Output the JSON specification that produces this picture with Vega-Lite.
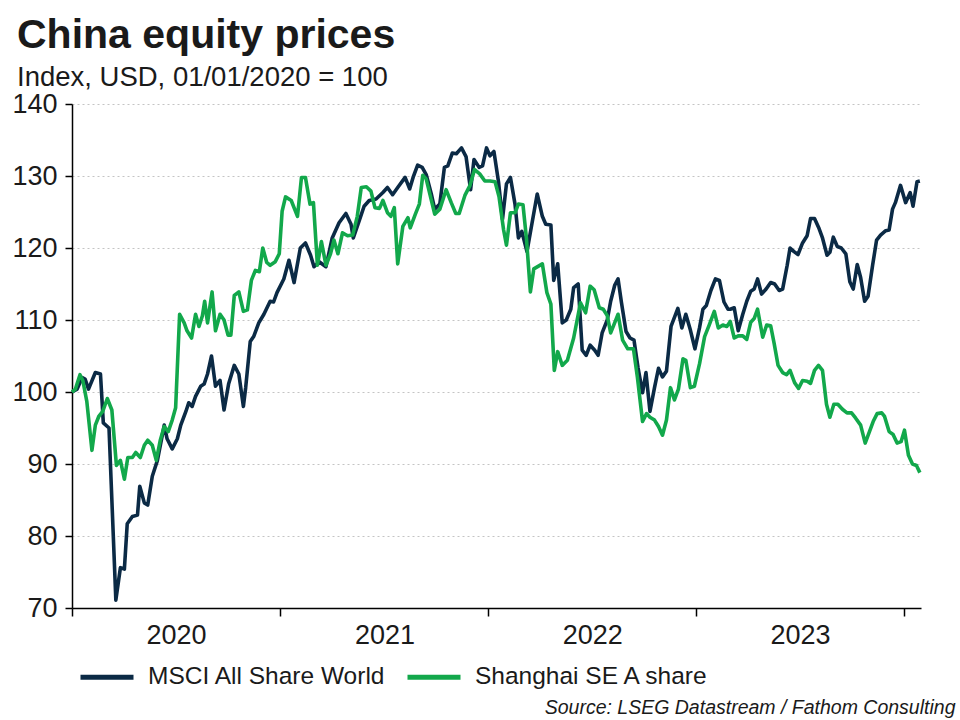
{
 "$schema": "https://vega.github.io/schema/vega-lite/v6.json",
 "width": 849,
 "height": 504,
 "autosize": {"type": "none"},
 "padding": {"left": 72, "top": 104, "right": 39, "bottom": 112},
 "background": "white",
 "title": {"text": "China equity prices", "subtitle": "Index, USD, 01/01/2020 = 100", "anchor": "start", "frame": "group", "dx": -55, "offset": -2, "fontSize": 41, "fontWeight": "bold", "font": "Liberation Sans", "color": "#1a1a1a", "subtitleFontSize": 27.5, "subtitleFont": "Liberation Sans", "subtitleColor": "#1a1a1a", "subtitlePadding": 7},
 "datasets": {
  "msci": [
   {"d":"2020-01-01","v":100},{"d":"2020-01-10","v":100.4},{"d":"2020-01-19","v":102.0},{"d":"2020-01-24","v":101.8},{"d":"2020-01-30","v":100.4},{"d":"2020-02-11","v":102.7},{"d":"2020-02-20","v":102.5},{"d":"2020-02-25","v":95.7},{"d":"2020-03-06","v":95.0},{"d":"2020-03-18","v":71.1},{"d":"2020-03-26","v":75.6},{"d":"2020-04-02","v":75.4},{"d":"2020-04-07","v":81.7},{"d":"2020-04-16","v":82.7},{"d":"2020-04-25","v":82.9},{"d":"2020-04-29","v":86.9},{"d":"2020-05-07","v":84.6},{"d":"2020-05-13","v":84.3},{"d":"2020-05-21","v":88.3},{"d":"2020-05-30","v":90.5},{"d":"2020-06-11","v":95.4},{"d":"2020-06-16","v":93.5},{"d":"2020-06-25","v":92.1},{"d":"2020-07-04","v":93.5},{"d":"2020-07-10","v":95.4},{"d":"2020-07-19","v":97.3},{"d":"2020-07-24","v":98.5},{"d":"2020-07-30","v":98.0},{"d":"2020-08-05","v":99.4},{"d":"2020-08-14","v":100.8},{"d":"2020-08-20","v":101.1},{"d":"2020-08-26","v":102.5},{"d":"2020-09-02","v":105.0},{"d":"2020-09-09","v":100.8},{"d":"2020-09-17","v":101.6},{"d":"2020-09-24","v":97.5},{"d":"2020-10-02","v":101.1},{"d":"2020-10-12","v":103.7},{"d":"2020-10-20","v":102.5},{"d":"2020-10-28","v":98.0},{"d":"2020-11-01","v":100.6},{"d":"2020-11-09","v":107.0},{"d":"2020-11-15","v":107.7},{"d":"2020-11-24","v":109.6},{"d":"2020-12-03","v":110.8},{"d":"2020-12-14","v":112.6},{"d":"2020-12-20","v":112.5},{"d":"2020-12-26","v":113.8},
   {"d":"2021-01-07","v":115.7},{"d":"2021-01-16","v":118.3},{"d":"2021-01-25","v":115.2},{"d":"2021-02-05","v":120.0},{"d":"2021-02-14","v":120.7},{"d":"2021-02-23","v":119.0},{"d":"2021-03-01","v":117.4},{"d":"2021-03-10","v":118.1},{"d":"2021-03-22","v":117.4},{"d":"2021-04-02","v":121.4},{"d":"2021-04-14","v":123.5},{"d":"2021-04-26","v":124.8},{"d":"2021-05-05","v":123.3},{"d":"2021-05-09","v":121.4},{"d":"2021-05-19","v":123.7},{"d":"2021-05-28","v":125.8},{"d":"2021-06-06","v":126.6},{"d":"2021-06-18","v":126.8},{"d":"2021-06-30","v":127.7},{"d":"2021-07-08","v":128.4},{"d":"2021-07-17","v":127.4},{"d":"2021-07-26","v":128.4},{"d":"2021-08-08","v":129.8},{"d":"2021-08-16","v":128.2},{"d":"2021-08-22","v":129.8},{"d":"2021-08-30","v":131.5},{"d":"2021-09-07","v":131.2},{"d":"2021-09-14","v":130.2},{"d":"2021-09-23","v":127.5},{"d":"2021-09-29","v":125.4},{"d":"2021-10-08","v":126.1},{"d":"2021-10-16","v":131.2},{"d":"2021-10-22","v":131.4},{"d":"2021-10-30","v":133.2},{"d":"2021-11-06","v":133.1},{"d":"2021-11-15","v":133.9},{"d":"2021-11-23","v":132.7},{"d":"2021-12-01","v":128.1},{"d":"2021-12-07","v":132.3},{"d":"2021-12-16","v":131.2},{"d":"2021-12-22","v":131.4},{"d":"2021-12-29","v":133.9},
   {"d":"2022-01-04","v":132.8},{"d":"2022-01-11","v":133.4},{"d":"2022-01-19","v":129.2},{"d":"2022-01-26","v":124.0},{"d":"2022-02-02","v":128.9},{"d":"2022-02-09","v":129.8},{"d":"2022-02-17","v":126.1},{"d":"2022-02-23","v":121.4},{"d":"2022-03-01","v":122.3},{"d":"2022-03-10","v":119.5},{"d":"2022-03-19","v":123.5},{"d":"2022-03-28","v":127.5},{"d":"2022-04-06","v":124.4},{"d":"2022-04-12","v":123.3},{"d":"2022-04-21","v":123.2},{"d":"2022-04-26","v":115.5},{"d":"2022-05-03","v":117.8},{"d":"2022-05-11","v":109.6},{"d":"2022-05-18","v":110.0},{"d":"2022-05-26","v":111.5},{"d":"2022-05-31","v":114.5},{"d":"2022-06-08","v":115.0},{"d":"2022-06-15","v":105.8},{"d":"2022-06-22","v":105.1},{"d":"2022-06-29","v":106.5},{"d":"2022-07-07","v":105.8},{"d":"2022-07-13","v":105.1},{"d":"2022-07-20","v":108.2},{"d":"2022-07-29","v":110.0},{"d":"2022-08-04","v":112.6},{"d":"2022-08-11","v":114.8},{"d":"2022-08-17","v":115.7},{"d":"2022-08-23","v":112.4},{"d":"2022-08-31","v":108.4},{"d":"2022-09-07","v":107.5},{"d":"2022-09-14","v":107.2},{"d":"2022-09-21","v":103.4},{"d":"2022-09-29","v":99.9},{"d":"2022-10-05","v":102.7},{"d":"2022-10-12","v":97.3},{"d":"2022-10-20","v":100.6},{"d":"2022-10-27","v":103.3},{"d":"2022-11-03","v":102.1},{"d":"2022-11-10","v":102.9},{"d":"2022-11-18","v":109.1},{"d":"2022-11-30","v":111.6},{"d":"2022-12-07","v":108.9},{"d":"2022-12-14","v":110.8},{"d":"2022-12-22","v":108.6},{"d":"2022-12-30","v":106.0},
   {"d":"2023-01-07","v":108.9},{"d":"2023-01-13","v":111.5},{"d":"2023-01-19","v":112.0},{"d":"2023-01-27","v":114.1},{"d":"2023-02-04","v":115.7},{"d":"2023-02-11","v":115.5},{"d":"2023-02-19","v":112.5},{"d":"2023-02-26","v":111.5},{"d":"2023-03-02","v":111.5},{"d":"2023-03-09","v":111.7},{"d":"2023-03-16","v":108.5},{"d":"2023-03-24","v":110.8},{"d":"2023-03-31","v":112.6},{"d":"2023-04-07","v":114.0},{"d":"2023-04-13","v":114.3},{"d":"2023-04-19","v":115.7},{"d":"2023-04-26","v":113.6},{"d":"2023-05-04","v":114.3},{"d":"2023-05-12","v":115.2},{"d":"2023-05-19","v":115.0},{"d":"2023-05-27","v":114.1},{"d":"2023-06-02","v":114.3},{"d":"2023-06-10","v":117.6},{"d":"2023-06-15","v":120.0},{"d":"2023-06-22","v":119.5},{"d":"2023-06-29","v":119.1},{"d":"2023-07-07","v":120.7},{"d":"2023-07-15","v":121.7},{"d":"2023-07-21","v":124.1},{"d":"2023-07-28","v":124.1},{"d":"2023-08-05","v":122.7},{"d":"2023-08-11","v":121.4},{"d":"2023-08-19","v":119.0},{"d":"2023-08-24","v":119.4},{"d":"2023-08-30","v":121.5},{"d":"2023-09-06","v":120.2},{"d":"2023-09-13","v":120.0},{"d":"2023-09-21","v":119.2},{"d":"2023-09-28","v":115.3},{"d":"2023-10-04","v":114.3},{"d":"2023-10-11","v":117.7},{"d":"2023-10-17","v":115.9},{"d":"2023-10-24","v":112.6},{"d":"2023-10-30","v":113.3},{"d":"2023-11-07","v":117.6},{"d":"2023-11-14","v":121.1},{"d":"2023-11-21","v":121.8},{"d":"2023-11-30","v":122.4},{"d":"2023-12-06","v":122.5},{"d":"2023-12-12","v":125.4},{"d":"2023-12-17","v":126.3},{"d":"2023-12-26","v":128.7},
   {"d":"2024-01-04","v":126.3},{"d":"2024-01-12","v":127.7},{"d":"2024-01-17","v":125.8},{"d":"2024-01-24","v":129.2},{"d":"2024-01-29","v":129.3}
  ],
  "sh": [
   {"d":"2020-01-01","v":100},{"d":"2020-01-07","v":100.4},{"d":"2020-01-15","v":102.4},{"d":"2020-01-20","v":101.6},{"d":"2020-01-27","v":98.7},{"d":"2020-02-05","v":91.9},{"d":"2020-02-11","v":95.4},{"d":"2020-02-17","v":96.6},{"d":"2020-02-24","v":97.3},{"d":"2020-03-03","v":99.1},{"d":"2020-03-11","v":97.5},{"d":"2020-03-19","v":89.8},{"d":"2020-03-26","v":90.5},{"d":"2020-04-02","v":87.9},{"d":"2020-04-08","v":90.9},{"d":"2020-04-16","v":90.9},{"d":"2020-04-22","v":91.6},{"d":"2020-04-30","v":90.9},{"d":"2020-05-07","v":92.6},{"d":"2020-05-13","v":93.3},{"d":"2020-05-21","v":92.6},{"d":"2020-05-28","v":90.5},{"d":"2020-06-04","v":93.3},{"d":"2020-06-11","v":95.2},{"d":"2020-06-18","v":94.5},{"d":"2020-06-25","v":96.1},{"d":"2020-07-01","v":97.8},{"d":"2020-07-08","v":110.8},{"d":"2020-07-16","v":109.6},{"d":"2020-07-21","v":108.5},{"d":"2020-07-29","v":107.5},{"d":"2020-08-05","v":110.8},{"d":"2020-08-11","v":109.1},{"d":"2020-08-17","v":110.6},{"d":"2020-08-21","v":112.6},{"d":"2020-08-26","v":109.6},{"d":"2020-09-03","v":113.9},{"d":"2020-09-09","v":108.5},{"d":"2020-09-17","v":110.8},{"d":"2020-09-24","v":110.0},{"d":"2020-10-01","v":107.9},{"d":"2020-10-06","v":107.9},{"d":"2020-10-12","v":113.4},{"d":"2020-10-20","v":113.9},{"d":"2020-10-28","v":111.2},{"d":"2020-11-04","v":111.4},{"d":"2020-11-11","v":115.5},{"d":"2020-11-18","v":116.9},{"d":"2020-11-25","v":116.7},{"d":"2020-12-01","v":120.0},{"d":"2020-12-08","v":118.0},{"d":"2020-12-14","v":117.6},{"d":"2020-12-23","v":118.1},{"d":"2020-12-30","v":119.2},
   {"d":"2021-01-04","v":125.1},{"d":"2021-01-10","v":127.1},{"d":"2021-01-20","v":126.6},{"d":"2021-01-31","v":124.4},{"d":"2021-02-07","v":129.8},{"d":"2021-02-14","v":129.8},{"d":"2021-02-22","v":126.1},{"d":"2021-02-28","v":126.3},{"d":"2021-03-07","v":117.6},{"d":"2021-03-14","v":120.9},{"d":"2021-03-22","v":117.6},{"d":"2021-03-30","v":119.2},{"d":"2021-04-05","v":121.1},{"d":"2021-04-12","v":119.2},{"d":"2021-04-20","v":122.1},{"d":"2021-04-29","v":121.7},{"d":"2021-05-08","v":121.8},{"d":"2021-05-16","v":124.4},{"d":"2021-05-23","v":128.4},{"d":"2021-06-01","v":128.5},{"d":"2021-06-09","v":127.9},{"d":"2021-06-16","v":125.6},{"d":"2021-06-24","v":125.5},{"d":"2021-06-30","v":126.6},{"d":"2021-07-08","v":124.9},{"d":"2021-07-14","v":124.4},{"d":"2021-07-20","v":125.6},{"d":"2021-07-26","v":117.8},{"d":"2021-08-04","v":123.0},{"d":"2021-08-13","v":124.2},{"d":"2021-08-17","v":122.8},{"d":"2021-08-26","v":124.7},{"d":"2021-09-02","v":126.1},{"d":"2021-09-08","v":130.1},{"d":"2021-09-14","v":129.6},{"d":"2021-09-21","v":127.3},{"d":"2021-09-29","v":124.7},{"d":"2021-10-08","v":125.4},{"d":"2021-10-19","v":128.1},{"d":"2021-10-28","v":126.3},{"d":"2021-11-05","v":124.8},{"d":"2021-11-11","v":124.8},{"d":"2021-11-21","v":127.3},{"d":"2021-11-30","v":128.7},{"d":"2021-12-08","v":130.9},{"d":"2021-12-17","v":130.3},{"d":"2021-12-26","v":129.3},
   {"d":"2022-01-04","v":129.3},{"d":"2022-01-13","v":129.2},{"d":"2022-01-20","v":127.1},{"d":"2022-01-28","v":122.5},{"d":"2022-02-02","v":120.4},{"d":"2022-02-09","v":124.9},{"d":"2022-02-17","v":124.9},{"d":"2022-02-23","v":126.1},{"d":"2022-03-03","v":126.0},{"d":"2022-03-09","v":121.4},{"d":"2022-03-16","v":113.9},{"d":"2022-03-22","v":117.1},{"d":"2022-04-06","v":117.8},{"d":"2022-04-14","v":113.8},{"d":"2022-04-21","v":112.2},{"d":"2022-04-27","v":103.0},{"d":"2022-05-03","v":105.6},{"d":"2022-05-11","v":103.7},{"d":"2022-05-20","v":104.4},{"d":"2022-05-31","v":107.5},{"d":"2022-06-12","v":112.4},{"d":"2022-06-21","v":111.0},{"d":"2022-06-29","v":114.7},{"d":"2022-07-06","v":114.2},{"d":"2022-07-15","v":111.7},{"d":"2022-07-22","v":111.5},{"d":"2022-07-29","v":110.6},{"d":"2022-08-04","v":108.2},{"d":"2022-08-11","v":109.6},{"d":"2022-08-17","v":110.8},{"d":"2022-08-25","v":107.2},{"d":"2022-09-03","v":106.0},{"d":"2022-09-13","v":106.0},{"d":"2022-09-20","v":102.0},{"d":"2022-09-29","v":95.9},{"d":"2022-10-06","v":97.0},{"d":"2022-10-12","v":96.5},{"d":"2022-10-20","v":96.1},{"d":"2022-10-27","v":95.2},{"d":"2022-11-03","v":94.0},{"d":"2022-11-10","v":96.1},{"d":"2022-11-17","v":100.6},{"d":"2022-11-24","v":98.9},{"d":"2022-12-01","v":100.4},{"d":"2022-12-09","v":104.6},{"d":"2022-12-14","v":104.4},{"d":"2022-12-22","v":100.6},{"d":"2022-12-29","v":100.8},
   {"d":"2023-01-07","v":103.9},{"d":"2023-01-16","v":107.7},{"d":"2023-01-24","v":109.3},{"d":"2023-02-02","v":111.2},{"d":"2023-02-09","v":108.9},{"d":"2023-02-17","v":109.3},{"d":"2023-02-24","v":109.1},{"d":"2023-03-02","v":109.8},{"d":"2023-03-09","v":107.5},{"d":"2023-03-16","v":107.8},{"d":"2023-03-24","v":107.8},{"d":"2023-03-31","v":107.3},{"d":"2023-04-07","v":109.7},{"d":"2023-04-13","v":110.2},{"d":"2023-04-19","v":111.5},{"d":"2023-04-28","v":107.6},{"d":"2023-05-05","v":109.3},{"d":"2023-05-12","v":109.2},{"d":"2023-05-18","v":106.8},{"d":"2023-05-25","v":103.7},{"d":"2023-06-02","v":102.7},{"d":"2023-06-09","v":102.4},{"d":"2023-06-15","v":103.0},{"d":"2023-06-23","v":101.3},{"d":"2023-06-30","v":100.5},{"d":"2023-07-07","v":101.6},{"d":"2023-07-15","v":101.5},{"d":"2023-07-21","v":101.2},{"d":"2023-07-28","v":103.0},{"d":"2023-08-04","v":103.7},{"d":"2023-08-11","v":103.0},{"d":"2023-08-18","v":98.3},{"d":"2023-08-24","v":96.5},{"d":"2023-08-31","v":98.3},{"d":"2023-09-07","v":98.3},{"d":"2023-09-15","v":97.6},{"d":"2023-09-23","v":97.1},{"d":"2023-10-01","v":97.1},{"d":"2023-10-08","v":96.4},{"d":"2023-10-17","v":95.4},{"d":"2023-10-25","v":92.9},{"d":"2023-11-01","v":94.4},{"d":"2023-11-08","v":95.9},{"d":"2023-11-15","v":97.0},{"d":"2023-11-23","v":97.1},{"d":"2023-11-28","v":96.6},{"d":"2023-12-06","v":94.5},{"d":"2023-12-13","v":94.1},{"d":"2023-12-20","v":92.9},{"d":"2023-12-27","v":93.1},
   {"d":"2024-01-02","v":94.7},{"d":"2024-01-09","v":91.2},{"d":"2024-01-16","v":90.0},{"d":"2024-01-23","v":89.8},{"d":"2024-01-29","v":88.8}
  ]
 },
 "encoding": {
  "x": {"field": "d", "type": "temporal",
   "scale": {"domain": [{"year": 2020, "month": 1, "date": 1}, {"year": 2024, "month": 1, "date": 31}], "nice": false},
   "axis": {"values": [{"year": 2020, "month": 1, "date": 1}, {"year": 2021, "month": 1, "date": 1}, {"year": 2022, "month": 1, "date": 1}, {"year": 2023, "month": 1, "date": 1}, {"year": 2024, "month": 1, "date": 1}],
    "labelExpr": "year(datum.value) == 2024 ? '' : timeFormat(datum.value, '%Y')",
    "labelOffset": 104, "labelAlign": "center", "labelFontSize": 27, "labelFont": "Liberation Sans", "labelColor": "#1a1a1a", "labelPadding": 6,
    "grid": false, "domainColor": "#000000", "domainWidth": 1.5, "tickColor": "#000000", "tickWidth": 1.5, "tickSize": 8,
    "title": "Source: LSEG Datastream / Fathom Consulting", "titleX": 883, "titleY": 105, "titleAlign": "right", "titleBaseline": "alphabetic", "titleFontStyle": "italic", "titleFontWeight": "normal", "titleFontSize": 19.5, "titleFont": "Liberation Sans", "titleColor": "#1a1a1a"}},
  "y": {"field": "v", "type": "quantitative",
   "scale": {"domain": [70, 140], "nice": false, "zero": false},
   "axis": {"values": [70, 80, 90, 100, 110, 120, 130, 140], "title": null, "labelFontSize": 27, "labelFont": "Liberation Sans", "labelColor": "#1a1a1a", "labelPadding": 8,
    "grid": true, "gridDash": [2, 3], "gridColor": "#c4c4c4", "gridWidth": 1,
    "domainColor": "#000000", "domainWidth": 1.5, "tickColor": "#000000", "tickWidth": 1.5, "tickSize": 7}}
 },
 "layer": [
  {"data": {"name": "msci"}, "mark": {"type": "line", "strokeWidth": 3.6, "strokeJoin": "round"},
   "encoding": {"color": {"datum": "MSCI All Share World", "type": "nominal",
    "scale": {"domain": ["MSCI All Share World", "Shanghai SE A share"], "range": ["#0b2a45", "#12a84b"]},
    "legend": {"orient": "none", "legendX": 6, "legendY": 544, "direction": "horizontal", "title": null, "symbolType": "stroke", "symbolSize": 2809, "symbolStrokeWidth": 5, "labelFontSize": 24.5, "labelFont": "Liberation Sans", "labelColor": "#1a1a1a", "labelOffset": 12, "labelLimit": 0, "columnPadding": 11, "padding": 0}}}},
  {"data": {"name": "sh"}, "mark": {"type": "line", "strokeWidth": 3.6, "strokeJoin": "round"},
   "encoding": {"color": {"datum": "Shanghai SE A share", "type": "nominal"}}}
 ],
 "config": {"view": {"stroke": null}, "font": "Liberation Sans", "legend": {"symbolStrokeWidth": 5}}
}
